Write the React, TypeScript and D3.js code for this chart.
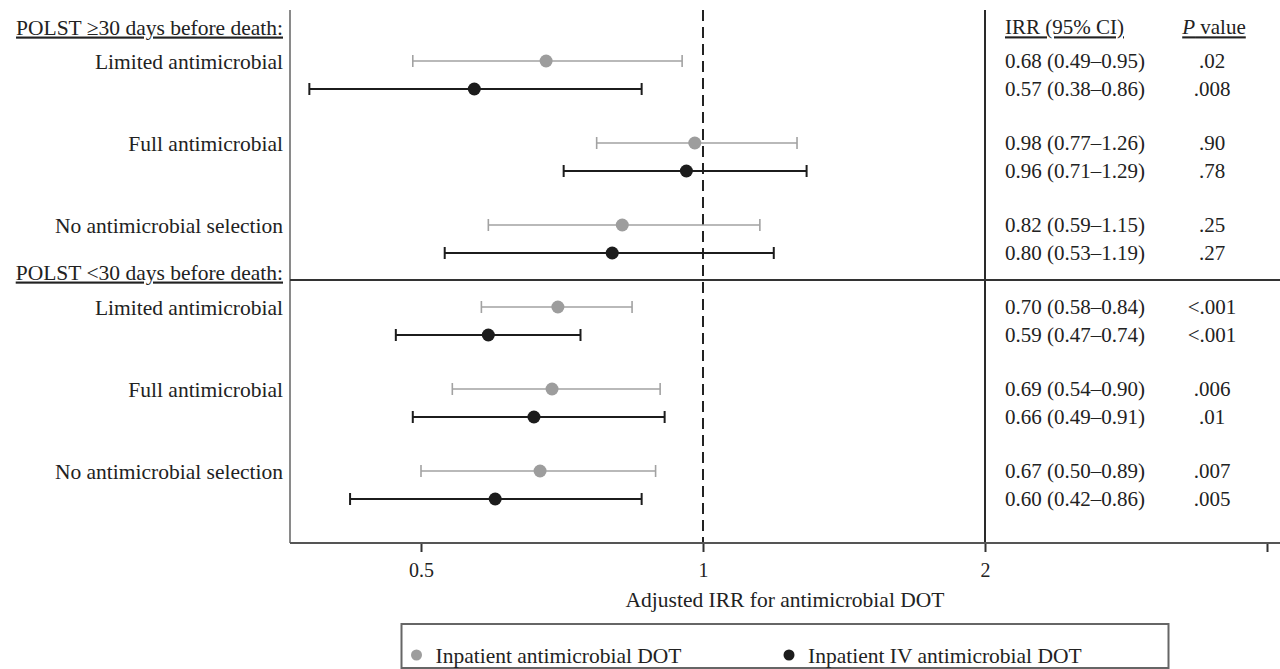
import { useEffect, useRef } from "react";
import * as d3 from "d3";

// subgroup labels
const sections = ["POLST \u226530 days before death:", "POLST <30 days before death:"];
const groups = [
  "Limited antimicrobial",
  "Full antimicrobial",
  "No antimicrobial selection",
  "Limited antimicrobial",
  "Full antimicrobial",
  "No antimicrobial selection",
];

// Inpatient antimicrobial DOT (gray)
const allEst = [0.68, 0.98, 0.82, 0.7, 0.69, 0.67];
const allLo = [0.49, 0.77, 0.59, 0.58, 0.54, 0.5];
const allHi = [0.95, 1.26, 1.15, 0.84, 0.9, 0.89];
const allP = [".02", ".90", ".25", "<.001", ".006", ".007"];

// Inpatient IV antimicrobial DOT (black)
const ivEst = [0.57, 0.96, 0.8, 0.59, 0.66, 0.6];
const ivLo = [0.38, 0.71, 0.53, 0.47, 0.49, 0.42];
const ivHi = [0.86, 1.29, 1.19, 0.74, 0.91, 0.86];
const ivP = [".008", ".78", ".27", "<.001", ".01", ".005"];

const ticks = [0.5, 1, 2, 4];
const tickLabels = ["0.5", "1", "2", ""];
const legendLabels = ["Inpatient antimicrobial DOT", "Inpatient IV antimicrobial DOT"];

const GRAY = "#a2a2a2";
const BLACK = "#1c1c1c";
const FONT = "'Liberation Serif', 'DejaVu Serif', serif";
const FS = "21.5px";
const TFS = "21px";

const fmt = (v: number) => v.toFixed(2);

const App = () => {
  const ref = useRef<SVGSVGElement | null>(null);

  useEffect(() => {
    document.body.style.margin = "0";
    const svg = d3.select(ref.current);
    svg.selectAll("*").remove();

    const left = 290, right = 1280, top = 10, axisY = 543, sepX = 985;
    const mid = (left + right) / 2;

    const x = d3.scaleLog().domain([0.5, 4]).range([421, 1267]);
    const y = d3.scalePoint<number>().domain(d3.range(groups.length)).range([61, 471]);
    const rowGap = 28;

    const series = [
      { est: allEst, lo: allLo, hi: allHi, p: allP, color: GRAY, dot: "#9d9d9d", w: 1.6, off: 0 },
      { est: ivEst, lo: ivLo, hi: ivHi, p: ivP, color: BLACK, dot: BLACK, w: 2, off: rowGap },
    ];

    const g = svg.append("g").style("font-family", FONT).style("fill", "#222");

    // frame lines
    g.append("line").attr("x1", left).attr("x2", left).attr("y1", top).attr("y2", axisY)
      .attr("stroke", "#8a8a8a").attr("stroke-width", 2);
    g.append("line").attr("x1", sepX).attr("x2", sepX).attr("y1", top).attr("y2", axisY)
      .attr("stroke", "#2a2a2a").attr("stroke-width", 2);
    g.append("line").attr("x1", left).attr("x2", right).attr("y1", 280).attr("y2", 280)
      .attr("stroke", "#333").attr("stroke-width", 2);
    g.append("line").attr("x1", x(1)).attr("x2", x(1)).attr("y1", top).attr("y2", axisY)
      .attr("stroke", "#222").attr("stroke-width", 2).attr("stroke-dasharray", "11,6");

    // x axis
    const axis = d3.axisBottom(x).tickValues(ticks)
      .tickFormat((_d, i) => tickLabels[i]).tickSize(9).tickSizeOuter(0);
    const ax = g.append("g").attr("transform", `translate(0,${axisY})`)
      .call(axis).attr("font-family", FONT).attr("font-size", 20);
    ax.select(".domain").remove();
    ax.selectAll(".tick line").attr("stroke", "#333").attr("stroke-width", 2);
    ax.selectAll(".tick text").attr("dy", 0).attr("y", 34).attr("fill", "#222");
    g.append("line").attr("x1", left).attr("x2", right).attr("y1", axisY).attr("y2", axisY)
      .attr("stroke", "#555").attr("stroke-width", 2);
    g.append("text").attr("x", mid).attr("y", 607).attr("text-anchor", "middle")
      .style("font-size", FS).text("Adjusted IRR for antimicrobial DOT");

    // section headers
    [27, 272].forEach((yy, i) => {
      g.append("text").attr("x", 283).attr("y", yy).attr("dy", "0.35em").attr("text-anchor", "end")
        .style("font-size", FS).style("text-decoration", "underline").text(sections[i]);
    });

    // group labels
    g.selectAll(".glabel").data(groups).enter().append("text")
      .attr("x", 283).attr("y", (_d, i) => y(i)!).attr("dy", "0.35em").attr("text-anchor", "end")
      .style("font-size", FS).text((d) => d);

    // table header
    g.append("text").attr("x", 1005).attr("y", 27).attr("dy", "0.35em")
      .style("font-size", TFS).style("text-decoration", "underline").text("IRR (95% CI)");
    const ph = g.append("text").attr("x", 1214).attr("y", 27).attr("dy", "0.35em")
      .attr("text-anchor", "middle").style("font-size", TFS).style("text-decoration", "underline");
    ph.append("tspan").style("font-style", "italic").text("P");
    ph.append("tspan").text(" value");

    // error bars, points, table rows
    series.forEach((s) => {
      const rows = g.selectAll(null).data(s.est).enter().append("g")
        .attr("transform", (_d, i) => `translate(0,${y(i)! + s.off})`);
      rows.append("line").attr("x1", (_d, i) => x(s.lo[i])).attr("x2", (_d, i) => x(s.hi[i]))
        .attr("stroke", s.color).attr("stroke-width", s.w);
      rows.append("line").attr("x1", (_d, i) => x(s.lo[i])).attr("x2", (_d, i) => x(s.lo[i]))
        .attr("y1", -6).attr("y2", 6).attr("stroke", s.color).attr("stroke-width", s.w);
      rows.append("line").attr("x1", (_d, i) => x(s.hi[i])).attr("x2", (_d, i) => x(s.hi[i]))
        .attr("y1", -6).attr("y2", 6).attr("stroke", s.color).attr("stroke-width", s.w);
      rows.append("circle").attr("cx", (d) => x(d)).attr("r", 6.5).attr("fill", s.dot);
      rows.append("text").attr("x", 1005).attr("dy", "0.35em").style("font-size", TFS)
        .text((d, i) => `${fmt(d)} (${fmt(s.lo[i])}\u2013${fmt(s.hi[i])})`);
      rows.append("text").attr("x", 1212).attr("dy", "0.35em").attr("text-anchor", "middle")
        .style("font-size", TFS).text((_d, i) => s.p[i]);
    });

    // legend
    const lw = 767;
    const lg = g.append("g");
    lg.append("rect").attr("x", mid - lw / 2).attr("y", 624).attr("width", lw).attr("height", 44)
      .attr("fill", "none").attr("stroke", "#666").attr("stroke-width", 2);
    [mid - lw / 2 + 15, mid + 4].forEach((lx, i) => {
      lg.append("circle").attr("cx", lx).attr("cy", 655).attr("r", 5.5).attr("fill", i ? BLACK : "#9d9d9d");
      lg.append("text").attr("x", lx + 19).attr("y", 655).attr("dy", "0.35em")
        .style("font-size", FS).text(legendLabels[i]);
    });
  }, []);

  return (
    <div>
      <svg ref={ref} width={1280} height={669} style={{ display: "block", background: "#fff" }} />
    </div>
  );
};

export default App;
